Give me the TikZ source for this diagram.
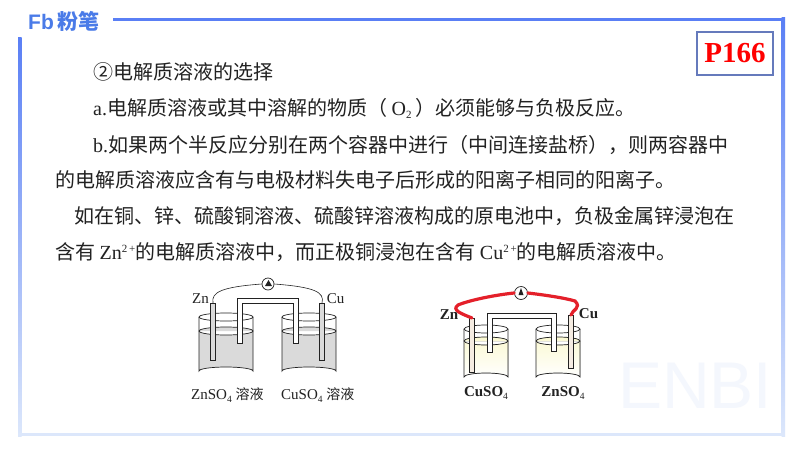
\documentclass[tikz,border=0pt]{standalone}
\usepackage{fontspec}
\setmainfont{Noto Sans CJK SC}
\newfontfamily\lat{Liberation Serif}
\newfontfamily\hei{Liberation Sans}
\usetikzlibrary{calc}
\definecolor{fb}{HTML}{5A7FF5}
\definecolor{fbl}{HTML}{DCE7FB}
\definecolor{logo}{HTML}{4A7BE8}
\definecolor{wm}{HTML}{F4F7FD}
\definecolor{ink}{HTML}{222222}
\definecolor{graysol}{HTML}{DADADA}
\definecolor{yelsol}{HTML}{FBF9D2}
\definecolor{wire}{HTML}{E4202A}
\newcommand{\supup}[1]{\raisebox{6.5pt}{\fontsize{11}{11}\selectfont #1}}
\newcommand{\subdn}[1]{\raisebox{-3pt}{\fontsize{11}{11}\selectfont #1}}
\newcommand{\capsub}[1]{\raisebox{-2.5pt}{\fontsize{9.5}{10}\selectfont\mdseries #1}}
\tikzset{
 body/.style={anchor=west,inner sep=0pt,font=\fontsize{20}{20}\selectfont,text=ink},
 rod/.style={draw=ink,line width=.6pt,fill=#1,inner sep=0pt,anchor=north,minimum width=4.6pt},
 meter/.style={circle,draw=ink,fill=white,line width=.7pt,minimum size=12pt,inner sep=0pt},
 lab/.style={inner sep=0pt,text=ink,font=\lat\fontsize{15}{15}\selectfont},
 blab/.style={inner sep=0pt,text=ink,font=\lat\bfseries\fontsize{15}{15}\selectfont},
 glass/.style={draw=ink,line width=.7pt},
}
\newcommand{\beaker}[6]{% xl xr ytop yliq ybot fill
 \fill[#6] (#1,#4) -- (#1,#5-4) arc[start angle=180,end angle=360,x radius={(#2-#1)/2},y radius=4] -- (#2,#4) arc[start angle=0,end angle=360,x radius={(#2-#1)/2},y radius=4] -- cycle;
 \draw[glass] ({(#1+#2)/2},#3) ellipse[x radius={(#2-#1)/2},y radius=4];
 \draw[glass] ({(#1+#2)/2},#4) ellipse[x radius={(#2-#1)/2},y radius=4];
 \draw[glass] (#1,#3) -- (#1,#5-4) arc[start angle=180,end angle=360,x radius={(#2-#1)/2},y radius=4] -- (#2,#3);
}
\begin{document}
\begin{tikzpicture}[x=1pt,y=-1pt]
\useasboundingbox (0,0) rectangle (800,450);
\fill[white] (0,0) rectangle (800,450);
% watermark
\node[inner sep=0pt,anchor=west,text=wm,font=\hei\fontsize{66}{66}\selectfont] (wmark) at (618,386) {ENBI};
% frame
\fill[fb] (113,17.5) rectangle (785,21);
\shade[top color=fb,bottom color=fbl] (18,37) rectangle (21.5,436);
\shade[top color=fb,bottom color=fbl] (781.5,17.5) rectangle (785,436);
\fill[fbl] (18,432.5) rectangle (785,436);
% logo
\node[inner sep=0pt,anchor=west,text=logo,font=\hei\bfseries\fontsize{21}{21}\selectfont] (fbmark) at (28,21.5) {Fb};
\node[inner sep=0pt,anchor=west,text=logo,font=\bfseries\fontsize{21}{21}\selectfont] (fbname) at (57,21.5) {粉笔};
% page tag
\node[inner sep=0pt,minimum width=76pt,minimum height=43pt,draw=fb!70!black!80,line width=1.3pt,fill=white,text=red,font=\lat\bfseries\fontsize{29}{29}\selectfont] (tag) at (735,53.5) {P166};
% body
\node[body] (l1) at (93,72) {②电解质溶液的选择};
\node[body] (l2) at (93,108) {{\lat a.}电解质溶液或其中溶解的物质（ {\lat O\subdn{2}} ）必须能够与负极反应。};
\node[body] (l3) at (93,145) {{\lat b.}如果两个半反应分别在两个容器中进行（中间连接盐桥），则两容器中};
\node[body] (l4) at (55,180) {的电解质溶液应含有与电极材料失电子后形成的阳离子相同的阳离子。};
\node[body] (l5) at (74,216) {如在铜、锌、硫酸铜溶液、硫酸锌溶液构成的原电池中，负极金属锌浸泡在};
\node[body] (l6) at (55,252) {含有 {\lat Zn\supup{2\,+}}的电解质溶液中，而正极铜浸泡在含有 {\lat Cu\supup{2\,+}}的电解质溶液中。};
% left cell
\beaker{199}{253}{317}{331}{375}{graysol}
\beaker{282}{336}{317}{331}{375}{graysol}
\node[rod=graysol,minimum height=57pt] (zna) at (213,303) {};
\node[rod=graysol,minimum height=57pt] (cua) at (322,303) {};
\draw[ink,line width=.6pt,fill=white] (237,343) -- (237,298) -- (298.5,298) -- (298.5,343) -- (293.5,343) -- (293.5,303) -- (242,303) -- (242,343) -- cycle;
\node[meter] (ma) at (268,284) {};
\fill[ink] ($(ma)+(0.5,-4)$) -- ($(ma)+(-3,2)$) -- ($(ma)+(4,2)$) -- cycle;
\draw[ink,line width=.6pt] (zna.north) .. controls (211,292) and (222,287) .. (ma.west);
\draw[ink,line width=.6pt] (cua.north) .. controls (325,292) and (314,287) .. (ma.east);
\node[lab] (lzna) at (200.5,299) {Zn};
\node[lab] (lcua) at (335.5,299) {Cu};
\node[lab,anchor=west] (capa) at (191,395) {ZnSO\capsub{4} {\fontspec{Noto Sans CJK SC}\fontsize{14}{14}\selectfont 溶液}};
\node[lab,anchor=west] (capb) at (281,395) {CuSO\capsub{4} {\fontspec{Noto Sans CJK SC}\fontsize{14}{14}\selectfont 溶液}};
% right cell
\beaker{464}{508}{329}{341}{381}{top color=yelsol,bottom color=white}
\beaker{536}{580}{329}{341}{381}{top color=yelsol,bottom color=white}
\node[rod=white!85!brown,minimum height=54pt] (znb) at (472,318) {};
\node[rod=white!85!brown,minimum height=53pt] (cub) at (571,315) {};
\draw[ink,line width=.6pt,fill=white] (487,352) -- (487,313.5) -- (556,313.5) -- (556,351) -- (551,351) -- (551,318.5) -- (492,318.5) -- (492,352) -- cycle;
\node[meter,minimum size=13pt] (mb) at (521,293) {};
\fill[ink] ($(mb)+(0,-5)$) -- ($(mb)+(-2.5,2)$) -- ($(mb)+(2.5,2)$) -- cycle;
\draw[wire,line width=3.2pt,line cap=round] (znb.north) .. controls (462,314) and (451,310) .. (458,305) .. controls (470,300) and (495,295) .. (mb.west);
\draw[wire,line width=3.2pt,line cap=round] (cub.north) .. controls (572,310) and (582,308) .. (575,301) .. controls (565,298) and (545,295) .. (mb.east);
\node[blab] (lznb) at (449,315) {Zn};
\node[blab] (lcub) at (588.5,314) {Cu};
\node[blab] (capc) at (486,393) {CuSO\capsub{4}};
\node[blab] (capd) at (563,393) {ZnSO\capsub{4}};
\end{tikzpicture}
\end{document}
